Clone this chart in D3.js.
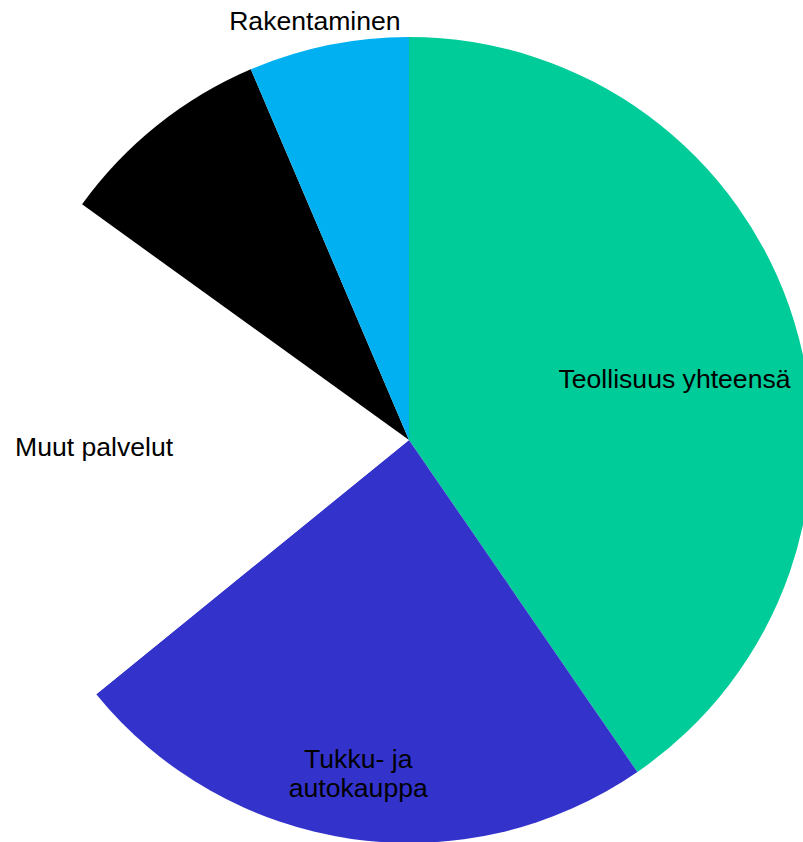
<!DOCTYPE html>
<html>
<head>
<meta charset="utf-8">
<script src="https://cdn.jsdelivr.net/npm/d3@7"></script>
<style>
  html, body { margin: 0; padding: 0; background: #fff; }
  svg { display: block; }
  text { font-family: "Liberation Sans", Arial, sans-serif; font-size: 26.6px; fill: #000; }
</style>
</head>
<body>
<script>
(function () {

  // Slices clockwise from 12 o'clock, shares in percent
  let sectors = ['Teollisuus yhteensä', 'Tukku- ja autokauppa', 'Muut palvelut', '', 'Rakentaminen'];
  let shares  = [40.41, 23.73, 20.80, 8.64, 6.42];
  // label lines as drawn
  let labelLines = [['Teollisuus yhteensä'], ['Tukku- ja', 'autokauppa'], ['Muut palvelut'], [], ['Rakentaminen']];
  let colors  = ['#00CC99', '#3333CC', '#FFFFFF', '#000000', '#00B0F0'];

  let width  = 803;
  let height = 842;
  let cx = 409, cy = 440;
  let radius = 403;

  // nudges from the centroid so labels sit where the original put them
  let labelShift = [[-21, 37], [-8, 31], [-15, 7], [0, 0], [-34, -116]];

  let svg = d3.select('body').append('svg')
      .attr('width', width)
      .attr('height', height)
      .attr('viewBox', '0 0 ' + width + ' ' + height);

  let g = svg.append('g').attr('transform', 'translate(' + cx + ',' + cy + ')');

  let pie = d3.pie().sort(null).value(d => d);
  let arcs = pie(shares);

  let arc = d3.arc().innerRadius(0).outerRadius(radius);
  let labelArc = d3.arc().innerRadius(300).outerRadius(300);

  g.selectAll('path.slice').data(arcs)
    .enter()
    .append('path')
    .attr('class', 'slice')
    .attr('d', arc)
    .attr('fill', (d, i) => colors[i]);

  let labels = g.selectAll('text.label').data(arcs)
    .enter()
    .append('text')
    .attr('class', 'label')
    .attr('text-anchor', 'middle')
    .attr('transform', (d, i) => {
      let c = labelArc.centroid(d);
      return 'translate(' + (c[0] + labelShift[i][0]) + ',' + (c[1] + labelShift[i][1]) + ')';
    });

  labels.each(function (d, i) {
    let t = d3.select(this);
    labelLines[i].forEach((line, k) => {
      t.append('tspan').attr('x', 0).attr('y', k * 29).text(line);
    });
  });

})();
</script>
</body>
</html>
